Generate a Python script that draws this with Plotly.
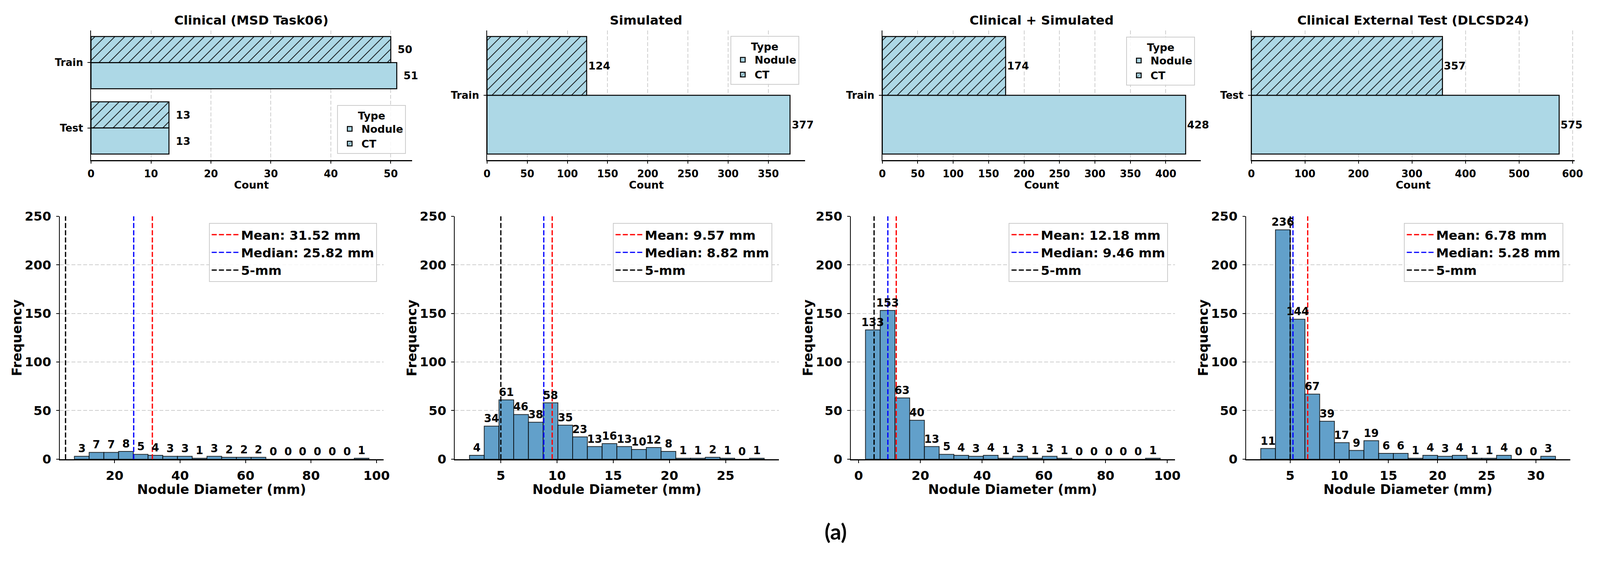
import plotly.graph_objects as go

# reference canvas (used for relative placement) and actual browser viewport
REF_W, REF_H = 4427, 1452
W, H = 4096, 1452
FS = 0.96  # font scale to compensate for the narrower viewport
FONT = "DejaVu Sans"

# ---------------- data: top row (counts per split) ----------------
panel_titles = ["Clinical (MSD Task06)", "Simulated", "Clinical + Simulated",
                "Clinical External Test (DLCSD24)"]
clin_splits = ["Test", "Train"]
clin_nodule = [13, 51]
clin_ct = [13, 50]
sim_splits = ["Train"]
sim_nodule = [377]
sim_ct = [124]
comb_splits = ["Train"]
comb_nodule = [428]
comb_ct = [174]
ext_splits = ["Test"]
ext_nodule = [575]
ext_ct = [357]

count_ticks_step = [10, 50, 50, 100]

# ---------------- data: bottom row (nodule diameter histograms) ----------------
clin_hist = [3, 7, 7, 8, 5, 4, 3, 3, 1, 3, 2, 2, 2, 0, 0, 0, 0, 0, 0, 1]
sim_hist = [4, 34, 61, 46, 38, 58, 35, 23, 13, 16, 13, 10, 12, 8, 1, 1, 2, 1, 0, 1]
comb_hist = [133, 153, 63, 40, 13, 5, 4, 3, 4, 1, 3, 1, 3, 1, 0, 0, 0, 0, 0, 1]
ext_hist = [11, 236, 144, 67, 39, 17, 9, 19, 6, 6, 1, 4, 3, 4, 1, 1, 4, 0, 0, 3]

clin_range = [7.7, 97.7]
sim_range = [2.21, 28.44]
comb_range = [2.21, 97.7]
ext_range = [2.0, 32.0]

clin_mean, clin_median = 31.52, 25.82
sim_mean, sim_median = 9.57, 8.82
comb_mean, comb_median = 12.18, 9.46
ext_mean, ext_median = 6.78, 5.28
threshold_mm = 5

hist_xticks = [[20, 40, 60, 80, 100], [5, 10, 15, 20, 25],
               [0, 20, 40, 60, 80, 100], [5, 10, 15, 20, 25, 30]]
freq_max = 250
freq_ticks = [0, 50, 100, 150, 200, 250]

# ---------------- layout geometry (reference pixels) ----------------
top_x = [(244, 1139), (1348, 2235), (2450, 3338), (3479, 4380)]
top_y = (61, 401)
bot_x = [(156.5, 1060), (1258, 2162), (2362, 3266), (3464, 4368)]
bot_y = (549, 1188)
top_legend_pos = [(1122, 385, "right", "bottom"), (2218, 75, "right", "top"),
                  (3322, 77, "right", "top")]


def fx(p):
    return p / REF_W


def fy(p):
    return 1 - p / REF_H


def fs(s):
    return round(s * FS, 1)


LB = "#add8e6"
HIST_C = "#62a0ca"
GRID = "#cfcfcf"
DASH = "13px,5.5px"

fig = go.Figure()
annotations = []
layout = dict(
    width=W, height=H, margin=dict(l=0, r=0, t=0, b=0),
    paper_bgcolor="white", plot_bgcolor="white",
    font=dict(family=FONT, color="black", size=fs(28), weight="bold"),
    barmode="overlay", showlegend=True,
)

top_sets = [(clin_splits, clin_nodule, clin_ct), (sim_splits, sim_nodule, sim_ct),
            (comb_splits, comb_nodule, comb_ct), (ext_splits, ext_nodule, ext_ct)]

for i, (splits, nod, ct) in enumerate(top_sets):
    k = i + 1
    xa, ya = f"x{k}", f"y{k}"
    pos = list(range(len(splits)))
    leg = "legend" if i == 0 else f"legend{k}"
    show = i < 3
    fig.add_trace(go.Bar(
        y=pos, x=nod, orientation="h", offset=-0.4, width=0.4, name="Nodule",
        legendgroup=f"nod{k}",
        marker=dict(color=LB, line=dict(color="black", width=2.5)),
        xaxis=xa, yaxis=ya, legend=leg, showlegend=show))
    fig.add_trace(go.Bar(
        y=pos, x=ct, orientation="h", offset=0.0, width=0.4, name="CT",
        legendgroup=f"ct{k}",
        marker=dict(color=LB, line=dict(color="black", width=2.5),
                    pattern=dict(shape="/", fgcolor="black", bgcolor=LB,
                                 size=18, solidity=0.1, fillmode="replace")),
        xaxis=xa, yaxis=ya, legend=leg, showlegend=show))
    xmax = max(nod + ct) * 1.05
    n = len(splits)
    ylo, yhi = -0.4 - 0.05 * (n - 1 + 0.8), (n - 1) + 0.4 + 0.05 * (n - 1 + 0.8)
    step = count_ticks_step[i]
    tv = list(range(0, int(xmax) + 1, step))
    layout[f"xaxis{k}"] = dict(
        domain=[fx(top_x[i][0]), fx(top_x[i][1])], anchor=ya, range=[0, xmax],
        tickvals=tv, showline=True, linecolor="black", linewidth=2.5,
        ticks="outside", ticklen=7, tickwidth=2, tickcolor="black",
        showgrid=True, gridcolor=GRID, gridwidth=1.5, griddash="10px,5px",
        zeroline=False, tickfont=dict(size=fs(27)), ticklabelstandoff=4)
    layout[f"yaxis{k}"] = dict(
        domain=[fy(top_y[1]), fy(top_y[0])], anchor=xa, range=[ylo, yhi],
        tickvals=pos, ticktext=splits, showline=True, linecolor="black", linewidth=2,
        ticks="outside", ticklen=7, tickwidth=2, tickcolor="black",
        showgrid=False, zeroline=False, tickfont=dict(size=fs(27)), ticklabelstandoff=6)
    for p, v in zip(pos, nod):
        annotations.append(dict(x=v + 1, y=p - 0.2, xref=xa, yref=ya, text=str(v),
                                showarrow=False, xanchor="left", yanchor="middle",
                                font=dict(size=fs(28))))
    for p, v in zip(pos, ct):
        annotations.append(dict(x=v + 1, y=p + 0.2, xref=xa, yref=ya, text=str(v),
                                showarrow=False, xanchor="left", yanchor="middle",
                                font=dict(size=fs(28))))
    cx = fx((top_x[i][0] + top_x[i][1]) / 2)
    annotations.append(dict(x=cx, y=fy(34), xref="paper", yref="paper",
                            text=panel_titles[i], showarrow=False,
                            font=dict(size=fs(34)), xanchor="center", yanchor="middle"))
    annotations.append(dict(x=cx, y=fy(467), xref="paper", yref="paper",
                            text="Count", showarrow=False,
                            font=dict(size=fs(28)), xanchor="center", yanchor="middle"))

for i, (lx, ly, xan, yan) in enumerate(top_legend_pos):
    name = "legend" if i == 0 else f"legend{i + 1}"
    layout[name] = dict(
        x=fx(lx), y=fy(ly), xanchor=xan, yanchor=yan, xref="paper", yref="paper",
        bgcolor="rgba(255,255,255,0.85)", bordercolor="#cccccc", borderwidth=2,
        font=dict(size=fs(28)), traceorder="normal", tracegroupgap=6, itemwidth=50,
        title=dict(text="Type", side="top center", font=dict(size=fs(28))))

hist_sets = [(clin_hist, clin_range, clin_mean, clin_median),
             (sim_hist, sim_range, sim_mean, sim_median),
             (comb_hist, comb_range, comb_mean, comb_median),
             (ext_hist, ext_range, ext_mean, ext_median)]

for i, (counts, rng, mean, median) in enumerate(hist_sets):
    k = i + 5
    xa, ya = f"x{k}", f"y{k}"
    leg = f"legend{k}"
    nb = len(counts)
    w = (rng[1] - rng[0]) / nb
    centers = [rng[0] + (j + 0.5) * w for j in range(nb)]
    fig.add_trace(go.Bar(
        x=centers, y=counts, width=w, showlegend=False,
        marker=dict(color=HIST_C, line=dict(color="rgba(0,0,0,0.8)", width=2)),
        xaxis=xa, yaxis=ya))
    for j, (val, col, lab) in enumerate([(mean, "red", f"Mean: {mean:.2f} mm"),
                                         (median, "blue", f"Median: {median:.2f} mm"),
                                         (threshold_mm, "black", "5-mm")]):
        fig.add_trace(go.Scatter(
            x=[val, val], y=[0, freq_max], mode="lines", name=lab,
            legendgroup=f"h{k}_{j}",
            line=dict(color=col, width=3.2, dash=DASH),
            xaxis=xa, yaxis=ya, legend=leg, hoverinfo="skip"))
    for c, v in zip(centers, counts):
        annotations.append(dict(x=c, y=v, xref=xa, yref=ya, text=str(v),
                                showarrow=False, xanchor="center", yanchor="bottom",
                                yshift=1, font=dict(size=fs(29))))
    span = rng[1] - rng[0]
    layout[f"xaxis{k}"] = dict(
        domain=[fx(bot_x[i][0]), fx(bot_x[i][1])], anchor=ya,
        range=[rng[0] - 0.05 * span, rng[1] + 0.05 * span],
        tickvals=hist_xticks[i], showline=True, linecolor="black", linewidth=2.5,
        ticks="outside", ticklen=7, tickwidth=2, tickcolor="black",
        showgrid=False, zeroline=False, tickfont=dict(size=fs(34)), ticklabelstandoff=4)
    layout[f"yaxis{k}"] = dict(
        domain=[fy(bot_y[1]), fy(bot_y[0])], anchor=xa, range=[0, freq_max],
        tickvals=freq_ticks, showline=True, linecolor="black", linewidth=2,
        ticks="outside", ticklen=7, tickwidth=2, tickcolor="black",
        showgrid=True, gridcolor=GRID, gridwidth=1.5, griddash="10px,5px",
        zeroline=False, tickfont=dict(size=fs(34)), ticklabelstandoff=6)
    layout[leg] = dict(
        x=fx(bot_x[i][1] - 19), y=fy(bot_y[0] + 18), xanchor="right", yanchor="top",
        xref="paper", yref="paper", bgcolor="rgba(255,255,255,0.85)",
        bordercolor="#cccccc", borderwidth=2, font=dict(size=fs(34)),
        traceorder="normal", tracegroupgap=7, itemwidth=70)
    cx = fx((bot_x[i][0] + bot_x[i][1]) / 2)
    annotations.append(dict(x=cx, y=fy(1268), xref="paper", yref="paper",
                            text="Nodule Diameter (mm)", showarrow=False,
                            font=dict(size=fs(35)), xanchor="center", yanchor="middle"))
    annotations.append(dict(x=fx(bot_x[i][0] - 119), y=fy((bot_y[0] + bot_y[1]) / 2),
                            xref="paper", yref="paper", text="Frequency", textangle=-90,
                            showarrow=False, font=dict(size=fs(35)),
                            xanchor="center", yanchor="middle"))

annotations.append(dict(x=fx(2320), y=fy(1378), xref="paper", yref="paper", text="(a)",
                        showarrow=False,
                        font=dict(family="Lato", size=fs(58), weight="bold"),
                        xanchor="center", yanchor="middle"))

layout["annotations"] = annotations
fig.update_layout(**layout)

fig.write_html("out.html", config={"displayModeBar": False},
               post_script="document.body.style.margin='0';")
